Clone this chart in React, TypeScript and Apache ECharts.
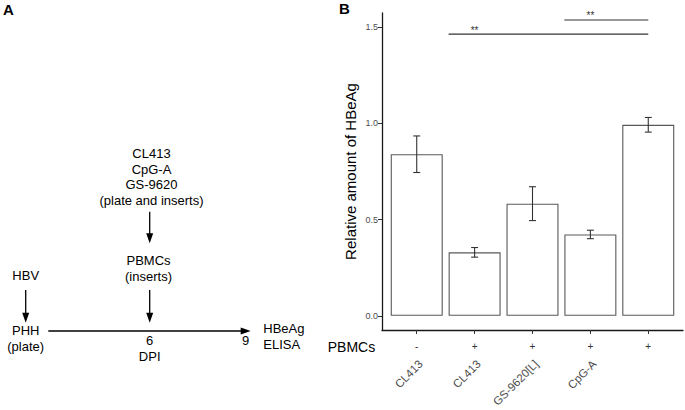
import React, { useEffect, useRef } from "react";
import * as echarts from "echarts";

// ---- data ----
const categories = ["CL413", "CL413", "GS-9620[L]", "CpG-A", ""];
const pbmcs = ["-", "+", "+", "+", "+"];
const means = [0.84, 0.33, 0.583, 0.423, 0.993];
const errs = [0.095, 0.025, 0.088, 0.022, 0.038];
const yTicks = [0, 0.5, 1.0, 1.5];
// significance brackets (x in category units, 1-based)
const sigStart = [1.55, 3.55];
const sigEnd = [5, 5];
const sigY = [1.464, 1.538];
const sigStarX = [2, 4];
const sigLabels = ["**", "**"];

const Y_MIN = -0.0736;
const Y_MAX = 1.574;
const FONT = "'Liberation Sans', Arial, Helvetica, sans-serif";

function txt(text: string, x: number, y: number, size = 13, align = "center", weight = "normal") {
  return {
    type: "text",
    x,
    y,
    silent: true,
    style: {
      text,
      fill: "#000",
      fontSize: size,
      fontFamily: FONT,
      fontWeight: weight,
      align,
      verticalAlign: "middle",
      textAlign: align,
      textVerticalAlign: "middle",
    },
  };
}

function vArrow(x: number, y0: number, y1: number) {
  return [
    { type: "line", shape: { x1: x, y1: y0, x2: x, y2: y1 - 8 }, style: { stroke: "#000", lineWidth: 1.3 } },
    {
      type: "polygon",
      shape: { points: [[x - 3.5, y1 - 10], [x + 3.5, y1 - 10], [x, y1]] },
      style: { fill: "#000" },
    },
  ];
}

function hArrow(y: number, x0: number, x1: number) {
  return [
    { type: "line", shape: { x1: x0, y1: y, x2: x1 - 8, y2: y }, style: { stroke: "#000", lineWidth: 1.3 } },
    {
      type: "polygon",
      shape: { points: [[x1 - 10, y - 3.5], [x1 - 10, y + 3.5], [x1, y]] },
      style: { fill: "#000" },
    },
  ];
}

export default function App() {
  const ref = useRef<HTMLDivElement>(null);

  useEffect(() => {
    if (!ref.current) return;
    const chart = echarts.init(ref.current, null, { renderer: "svg" });
    const xPos = categories.map((_, i) => i + 1);

    const graphics: any[] = [
      txt("A", 8.5, 9, 15, "center", "bold"),
      txt("B", 344.5, 8.5, 15, "center", "bold"),
      txt("CL413", 151.5, 153.3),
      txt("CpG-A", 151.5, 169),
      txt("GS-9620", 151.5, 184.5),
      txt("(plate and inserts)", 151.5, 200),
      ...vArrow(149.7, 211.7, 243.3),
      txt("PBMCs", 148.5, 260),
      txt("(inserts)", 148.5, 276),
      ...vArrow(149.7, 290, 322.7),
      txt("HBV", 25.7, 275),
      ...vArrow(25.7, 290, 322.7),
      txt("PHH", 25.7, 330),
      txt("(plate)", 25.7, 346.5),
      ...hArrow(331, 48.3, 250.7),
      txt("6", 149.7, 340),
      txt("DPI", 149.7, 356),
      txt("9", 245.7, 340.5),
      txt("HBeAg", 263.3, 328.3, 13, "left"),
      txt("ELISA", 263.3, 344, 13, "left"),
      txt("PBMCs", 351.5, 346.7, 14),
    ];

    const option: any = {
      animation: false,
      backgroundColor: "#fff",
      textStyle: { fontFamily: FONT },
      grid: { left: 382, right: 2, top: 13, bottom: 80, containLabel: false },
      xAxis: [
        {
          type: "value",
          min: 0.4,
          max: 5.6,
          position: "bottom",
          axisLine: { show: true, onZero: false, lineStyle: { color: "#1a1a1a", width: 1.3 } },
          axisTick: { show: true, customValues: xPos, length: 4, lineStyle: { color: "#333", width: 1 } },
          axisLabel: {
            customValues: xPos,
            formatter: (v: number) => pbmcs[Math.round(v) - 1] ?? "",
            margin: 11,
            color: "#333",
            fontSize: 10,
            fontFamily: FONT,
          },
          splitLine: { show: false },
        },
      ],
      yAxis: {
        type: "value",
        min: Y_MIN,
        max: Y_MAX,
        axisLine: { show: true, lineStyle: { color: "#1a1a1a", width: 1.3 } },
        axisTick: { show: true, customValues: yTicks, length: 4, lineStyle: { color: "#333", width: 1 } },
        axisLabel: {
          customValues: yTicks,
          formatter: (v: number) => v.toFixed(1),
          margin: 4,
          color: "#4d4d4d",
          fontSize: 9,
          fontFamily: FONT,
        },
        splitLine: { show: false },
        name: "Relative amount of HBeAg",
        nameLocation: "middle",
        nameGap: 24,
        nameTextStyle: { fontSize: 15, color: "#000", fontFamily: FONT },
      },
      series: [
        {
          type: "bar",
          z: 2,
          data: means.map((m, i) => [xPos[i], m]),
          barWidth: 52,
          itemStyle: { color: "#fff", borderColor: "#595959", borderWidth: 1.1 },
        },
        {
          type: "custom",
          z: 5,
          encode: { x: 0, y: [1, 2] },
          data: means.map((m, i) => [xPos[i], m - errs[i], m + errs[i]]),
          renderItem: (_p: any, api: any) => {
            const x = api.value(0);
            const lo = api.coord([x, api.value(1)]);
            const hi = api.coord([x, api.value(2)]);
            const hw = api.size([0.06, 0])[0];
            const st = { stroke: "#333", lineWidth: 1.1 };
            return {
              type: "group",
              children: [
                { type: "line", shape: { x1: lo[0], y1: lo[1], x2: hi[0], y2: hi[1] }, style: st },
                { type: "line", shape: { x1: lo[0] - hw, y1: lo[1], x2: lo[0] + hw, y2: lo[1] }, style: st },
                { type: "line", shape: { x1: hi[0] - hw, y1: hi[1], x2: hi[0] + hw, y2: hi[1] }, style: st },
              ],
            };
          },
        },
        {
          // rotated category labels under the PBMCs row
          type: "custom",
          z: 5,
          clip: false,
          silent: true,
          encode: { x: 0 },
          data: xPos.map((x) => [x]),
          renderItem: (p: any, api: any) => {
            const pt = api.coord([api.value(0), Y_MIN]);
            return {
              type: "text",
              x: pt[0] + 4,
              y: pt[1] + 32,
              rotation: Math.PI / 4,
              style: {
                text: categories[p.dataIndex],
                fill: "#4d4d4d",
                fontSize: 11.5,
                fontFamily: FONT,
                align: "right",
                verticalAlign: "middle",
              },
            };
          },
        },
        {
          type: "custom",
          z: 5,
          encode: { x: [0, 1, 3], y: 2 },
          clip: false,
          data: sigY.map((y, i) => [sigStart[i], sigEnd[i], y, sigStarX[i]]),
          renderItem: (p: any, api: any) => {
            const y = api.value(2);
            const a = api.coord([api.value(0), y]);
            const b = api.coord([api.value(1), y]);
            const s = api.coord([api.value(3), y]);
            return {
              type: "group",
              children: [
                { type: "line", shape: { x1: a[0], y1: a[1], x2: b[0], y2: b[1] }, style: { stroke: "#333", lineWidth: 1.1 } },
                {
                  type: "text",
                  x: s[0],
                  y: s[1] - 4,
                  style: {
                    text: sigLabels[p.dataIndex],
                    fill: "#333",
                    fontSize: 10,
                    fontFamily: FONT,
                    align: "center",
                    verticalAlign: "middle",
                  },
                },
              ],
            };
          },
        },
      ],
      graphic: graphics,
    };

    chart.setOption(option);
    return () => chart.dispose();
  }, []);

  return (
    <div
      ref={ref}
      style={{ position: "fixed", left: 0, top: 0, width: 685, height: 410, background: "#fff" }}
    />
  );
}
